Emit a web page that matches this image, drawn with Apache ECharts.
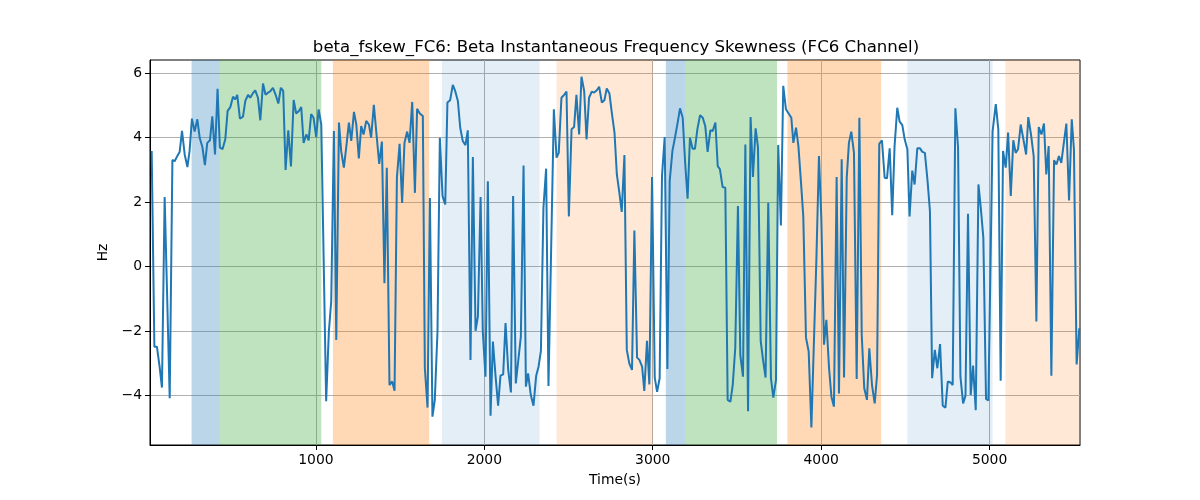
<!DOCTYPE html>
<html>
<head>
<meta charset="utf-8">
<script src="https://cdn.jsdelivr.net/npm/echarts@6/dist/echarts.min.js"></script>
<style>html,body{margin:0;padding:0;background:#fff}#c{width:1200px;height:500px}</style>
</head>
<body>
<div id="c"></div>
<script>
var times = [25,41,56,72,86,102,132,148,161,177,191,205,221,237,250,264,280,296,310,326,341,355,371,385,401,416,430,446,462,476,492,508,521,533,549,567,581,597,610,626,640,656,670,686,701,717,731,745,761,777,792,806,820,836,852,868,883,899,913,927,943,957,
972,986,1002,1016,1032,1061,1077,1091,1107,1121,1137,1150,1166,1180,1196,1210,1226,1240,1255,1269,1283,1299,1315,1328,1344,1360,1376,1392,1407,1421,1437,1453,1467,1481,1497,1512,1526,1542,1556,1572,1588,1601,1617,1635,1647,1663,1677,1692,1706,1722,1736,1752,1768,1781,1797,1813,1827,1843,1857,1872,1888,1902,
1918,1932,1948,1962,1978,1991,2007,2021,2037,2051,2067,2082,2096,2112,2126,2142,2158,2171,2187,2201,2217,2233,2247,2260,2276,2292,2308,2322,2336,2351,2367,2381,2413,2429,2442,2458,2474,2488,2502,2518,2533,2547,2563,2577,2593,2607,2622,2638,2652,2668,2682,2698,2713,2727,2743,2757,2773,2787,2802,2816,2832,
2846,2861,2877,2891,2907,2921,2937,2950,2966,2980,2996,3012,3026,3041,3055,3071,3087,3101,3117,3132,3148,3162,3178,3192,3207,3221,3237,3251,3265,3281,3297,3312,3326,3342,3356,3372,3386,3399,3415,3431,3445,3461,3475,3490,3506,3520,3536,3550,3566,3581,3595,3611,3625,3641,3655,3670,3686,3702,3716,3732,3745,3761,3775,3791,3807,
3823,3835,3851,3865,3881,3894,3910,3926,3942,3956,3972,3987,4001,4017,4031,4047,4061,4076,4092,4106,4122,4136,4152,4165,4179,4195,4211,4227,4241,4256,4272,4286,4302,4318,4332,4345,4361,4377,4391,4407,4422,4436,4452,4466,4482,4496,4512,4525,4541,4555,4571,4587,4601,4616,4632,4646,
4659,4675,4690,4706,4722,4738,4752,4768,4781,4797,4813,4827,4843,4857,4872,4888,4902,4918,4934,4948,4963,4979,4993,5018,5037,5052,5066,5080,5096,5110,5126,5141,5155,5169,5185,5201,5217,5230,5246,5262,5278,5292,5308,5323,5337,5351,5367,5383,5397,5412,5426,5442,5456,5472,5488,5501,5517,5533];

var values = [3.59,-2.48,-2.48,-3.1,-3.75,2.16,-4.08,3.31,3.27,3.43,3.56,4.21,3.48,3.09,3.59,4.59,4.19,4.57,4.0,3.71,3.15,3.84,3.92,4.66,3.48,5.52,3.69,3.65,3.95,4.83,4.95,5.27,5.19,5.33,4.59,4.65,5.14,5.33,5.24,5.38,5.47,5.24,4.54,5.68,5.33,5.40,5.45,5.55,5.33,5.06,5.55,5.45,3.0,4.23,3.11,5.17,4.75,4.83,4.95,3.84,4.10,3.92,
4.73,4.62,4.02,4.88,4.41,-4.17,-2.01,-1.08,4.21,-2.27,4.47,3.59,3.07,3.69,4.47,3.90,4.80,4.41,3.36,4.36,4.10,4.52,4.41,4.0,5.02,4.10,3.19,3.88,-0.51,3.07,-3.67,-3.56,-3.85,2.76,3.81,1.98,3.84,4.19,3.84,5.11,2.29,4.90,4.75,4.67,-3.15,-4.37,2.13,-4.65,-4.13,-2.01,4.0,2.19,1.93,5.09,5.16,5.64,5.45,5.14,4.31,3.90,3.77,4.23,
-2.89,3.40,-1.99,-1.54,2.16,-2.01,-3.41,2.65,-4.62,-2.32,-3.41,-4.31,-3.38,-3.34,-1.75,-3.20,-3.90,2.19,-3.62,-2.94,-2.17,3.14,-3.72,-3.31,-3.98,-4.31,-3.38,-3.10,-2.61,1.82,3.04,-3.70,4.88,3.38,3.53,5.24,5.33,5.43,1.56,4.26,4.33,5.33,4.10,5.89,5.45,3.95,5.24,5.43,5.40,5.47,5.58,5.09,5.16,5.53,5.37,4.78,4.16,2.86,2.29,1.70,3.46,
-2.58,-3.0,-3.20,1.12,-2.82,-2.89,-3.10,-3.85,-2.30,-3.65,2.78,-3.44,-3.88,-3.46,2.81,4.02,-3.17,2.67,3.59,4.0,4.47,4.91,4.62,3.27,2.11,4.0,3.66,3.66,4.26,4.70,4.62,4.36,3.56,4.23,4.21,4.47,3.12,3.02,2.47,2.45,-4.13,-4.19,-3.67,-2.53,1.88,-2.74,-3.41,3.79,-4.48,4.64,2.78,4.29,3.70,-2.30,-2.89,-3.44,1.98,-3.46,-4.06,-3.51,3.77,1.28,5.61,4.88,4.75,
4.62,3.84,4.31,3.74,2.57,1.56,-2.20,-2.63,-4.99,-2.53,0.27,3.43,1.51,-2.42,-1.65,-3.15,-4.03,-4.34,2.78,-3.93,3.33,-3.44,2.76,3.84,4.19,3.53,-3.48,4.62,-2.11,-3.77,-4.13,-2.53,-3.67,-4.24,-3.36,3.81,3.92,2.76,2.74,3.67,1.60,3.74,4.93,4.50,4.39,3.95,3.64,1.56,2.98,2.55,3.67,3.67,3.56,3.53,2.65,1.72,
-3.46,-2.58,-3.15,-2.40,-4.31,-4.37,-3.56,-3.59,-3.67,4.91,3.69,-3.41,-4.24,-4.0,1.64,-3.98,-3.07,-4.45,2.55,1.82,0.91,-4.10,-4.15,4.2,5.04,4.26,-3.54,3.59,3.07,4.16,2.19,3.92,3.53,3.64,4.41,3.95,3.48,4.64,4.10,3.43,-1.70,4.33,4.10,4.44,2.86,3.74,-3.38,3.30,3.17,3.43,3.22,3.88,4.44,2.05,4.57,3.64,-3.03,-1.91];

var bandStarts = [262, 430, 1101, 1748, 2429, 3078, 3196, 3800, 4512, 5094];
var bandEnds   = [430, 1032, 1673, 2328, 3002, 3196, 3738, 4356, 5018, 5537];
var bandKinds  = ['blue','green','orange','lightblue','lightorange','blue','green','orange','lightblue','lightorange'];

var xTicks = [1000, 2000, 3000, 4000, 5000];
var yTicks = [-4, -2, 0, 2, 4, 6];

var bandColors = {
  blue: 'rgba(31,119,180,0.3)',
  green: 'rgba(44,160,44,0.3)',
  orange: 'rgba(255,127,14,0.3)',
  lightblue: 'rgba(31,119,180,0.12)',
  lightorange: 'rgba(255,127,14,0.17)'
};

var lineData = times.map(function (t, i) { return [t, values[i]]; });
var areas = bandStarts.map(function (s, i) {
  return [{ xAxis: s, itemStyle: { color: bandColors[bandKinds[i]] } }, { xAxis: bandEnds[i] }];
});

var font = 'DejaVu Sans';
var chart = echarts.init(document.getElementById('c'), null, { renderer: 'canvas' });
chart.setOption({
  animation: false,
  backgroundColor: '#fff',
  title: {
    text: 'beta_fskew_FC6: Beta Instantaneous Frequency Skewness (FC6 Channel)',
    left: 611, top: 34, textAlign: 'center',
    textStyle: { fontFamily: font, fontSize: 16.6, fontWeight: 'normal', color: '#000' }
  },
  grid: { left: 150, right: 120, top: 60, bottom: 55, show: true, borderColor: '#000', borderWidth: 1, backgroundColor: 'transparent' },
  xAxis: {
    type: 'value', min: 15, max: 5537,
    name: 'Time(s)', nameLocation: 'middle', nameGap: 28,
    nameTextStyle: { fontFamily: font, fontSize: 13.9, color: '#000' },
    axisLine: { show: true, onZero: false, lineStyle: { color: '#000', width: 1 } },
    axisTick: { show: true, length: 5, customValues: xTicks, lineStyle: { color: '#000' } },
    axisLabel: {
      fontFamily: font, fontSize: 13.9, color: '#000', margin: 8, customValues: xTicks,
      formatter: function (v) { return String(v); }
    },
    splitLine: { show: true, lineStyle: { color: '#b0b0b0', width: 1 } }
  },
  yAxis: {
    type: 'value', min: -5.53, max: 6.41,
    name: 'Hz', nameLocation: 'middle', nameGap: 36, nameRotate: 90,
    nameTextStyle: { fontFamily: font, fontSize: 13.9, color: '#000' },
    axisLine: { show: true, onZero: false, lineStyle: { color: '#000', width: 1 } },
    axisTick: { show: true, length: 5, customValues: yTicks, lineStyle: { color: '#000' } },
    axisLabel: {
      fontFamily: font, fontSize: 13.9, color: '#000', margin: 8, customValues: yTicks,
      formatter: function (v) { return v < 0 ? '\u2212' + (-v) : String(v); }
    },
    splitLine: { show: true, lineStyle: { color: '#b0b0b0', width: 1 } }
  },
  series: [{
    type: 'line',
    data: lineData,
    showSymbol: false,
    symbol: 'none',
    lineStyle: { color: '#1f77b4', width: 2 },
    markArea: { silent: true, data: areas }
  }]
});
</script>
</body>
</html>
